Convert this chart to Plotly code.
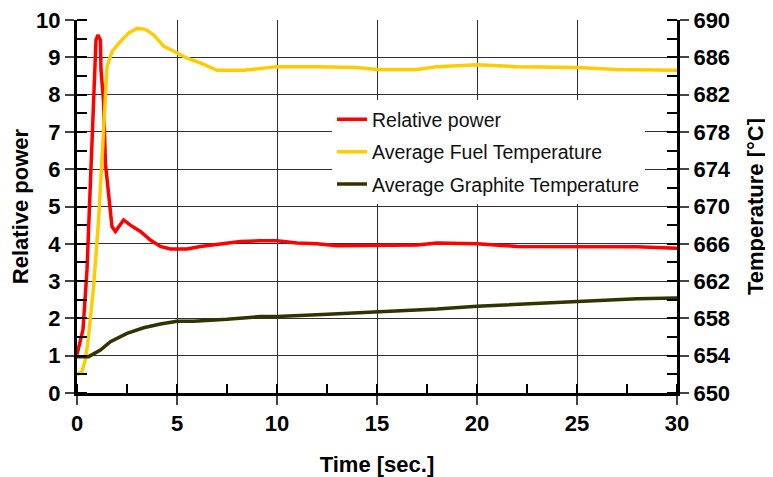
import plotly.graph_objects as go

# Relative power (left axis)
power_t = [0, 0.3, 0.5, 0.67, 0.83, 0.95, 1.05, 1.17, 1.2, 1.33, 1.42, 1.58, 1.67, 1.75, 1.92, 2.08,
           2.33, 2.67, 3.17, 3.67, 4.17, 4.67, 5.5, 6.17, 7.17, 8.17, 9.17, 10, 11, 12, 13, 15, 17,
           18, 20, 22, 25, 28, 30]
power_v = [1.03, 1.7, 3.3, 5.5, 7.5, 9.46, 9.6, 9.46, 8.66, 7.8, 6.16, 5.27, 4.9, 4.46, 4.33, 4.46,
           4.64, 4.5, 4.33, 4.1, 3.93, 3.86, 3.86, 3.93, 4.0, 4.06, 4.08, 4.08, 4.02, 4.0, 3.95, 3.95, 3.97,
           4.02, 4.0, 3.93, 3.92, 3.92, 3.88]

# Average fuel temperature (right axis, °C)
fuel_t = [0, 0.25, 0.42, 0.58, 0.83, 1.08, 1.25, 1.42, 1.5, 1.75, 2.17, 2.58, 3.0, 3.42, 3.83, 4.33,
          4.83, 5.5, 6.17, 7.0, 8.33, 9.17, 10, 12, 14, 15, 17, 18, 20, 22, 25, 27, 30]
fuel_T = [651.96, 652.3, 653.6, 656.1, 661.4, 668.6, 675.0, 681.1, 685.0, 686.6, 687.7, 688.6, 689.1,
          689.0, 688.4, 687.2, 686.6, 685.9, 685.4, 684.6, 684.6, 684.8, 685.0, 685.0, 684.9, 684.7,
          684.7, 685.0, 685.2, 685.0, 684.9, 684.7, 684.6]

# Average graphite temperature (right axis, °C)
graph_t = [0, 0.58, 1.17, 1.67, 2.5, 3.33, 4.17, 5, 5.83, 6.67, 7.5, 9.17, 10, 12, 15, 18, 20, 25, 28, 30]
graph_T = [653.9, 653.9, 654.6, 655.5, 656.4, 657.0, 657.4, 657.7, 657.7, 657.8, 657.9, 658.2, 658.2,
           658.4, 658.7, 659.0, 659.3, 659.8, 660.1, 660.2]

x_ticks = [0, 5, 10, 15, 20, 25, 30]
left_ticks = list(range(0, 11))
right_ticks = list(range(650, 691, 4))

FONT = "Liberation Sans, Arial, sans-serif"

fig = go.Figure()
fig.add_trace(go.Scatter(x=power_t, y=power_v, mode="lines", name="Relative power",
                         line=dict(color="#FF0000", width=3.5), yaxis="y", legendgroup="a"))
fig.add_trace(go.Scatter(x=fuel_t, y=fuel_T, mode="lines", name="Average Fuel Temperature",
                         line=dict(color="#FFCC00", width=3.5), yaxis="y2", legendgroup="b"))
fig.add_trace(go.Scatter(x=graph_t, y=graph_T, mode="lines", name="Average Graphite Temperature",
                         line=dict(color="#333300", width=3.5), yaxis="y2", legendgroup="c"))

tickfont = dict(family=FONT, size=22, color="black", weight="bold")
titlefont = dict(family=FONT, size=22, color="black", weight="bold")

fig.update_layout(
    width=765, height=469,
    margin=dict(l=69, r=96, t=12, b=84, autoexpand=False),
    plot_bgcolor="white", paper_bgcolor="white",
    font=dict(family=FONT, color="black"),
    xaxis=dict(range=[0, 30], tickvals=x_ticks, ticks="outside", ticklen=9, tickwidth=2,
               showgrid=True, gridcolor="#303030", gridwidth=1, zeroline=False, automargin=False,
               showline=True, linecolor="black", linewidth=3, ticklabeloverflow="allow",
               minor=dict(ticks="inside", dtick=2.5, tick0=0, ticklen=9, tickwidth=2, tickcolor="black", showgrid=False),
               tickfont=tickfont, title=dict(text="Time [sec.]", font=titlefont, standoff=23)),
    yaxis=dict(range=[0, 10], tickvals=left_ticks, ticks="outside", ticklen=9, tickwidth=2,
               showgrid=True, gridcolor="#303030", gridwidth=1, zeroline=False, automargin=False,
               showline=True, linecolor="black", linewidth=3, ticklabeloverflow="allow",
               minor=dict(ticks="inside", dtick=0.5, tick0=0, ticklen=10, tickwidth=2, tickcolor="black", showgrid=False),
               tickfont=tickfont, title=dict(text="Relative power", font=titlefont, standoff=4)),
    yaxis2=dict(range=[650, 690], tickvals=right_ticks, overlaying="y", side="right",
                ticks="outside", ticklen=9, tickwidth=2, showgrid=False, zeroline=False, automargin=False,
                showline=True, linecolor="black", linewidth=3, ticklabeloverflow="allow",
                minor=dict(ticks="inside", dtick=2, tick0=650, ticklen=10, tickwidth=2, tickcolor="black", showgrid=False),
                tickfont=tickfont, title=dict(text="Temperature [°C]", font=titlefont, standoff=18)),
    # overlay axes giving inside halves of the crossing major ticks
    xaxis2=dict(range=[0, 30], tickvals=x_ticks, overlaying="x", anchor="y", side="bottom",
                ticks="inside", ticklen=9, tickwidth=2, showticklabels=False, showgrid=False,
                zeroline=False, showline=False, automargin=False),
    # thin top border (the 10 gridline at the top edge)
    xaxis3=dict(range=[0, 30], overlaying="x", anchor="y", side="top", showticklabels=False,
                ticks="", showgrid=False, zeroline=False, showline=True, linecolor="#303030",
                linewidth=1, automargin=False),
    yaxis3=dict(range=[0, 10], tickvals=left_ticks, overlaying="y", side="left", anchor="x",
                ticks="inside", ticklen=10, tickwidth=2, showticklabels=False, showgrid=False,
                zeroline=False, showline=False, automargin=False),
    yaxis4=dict(range=[650, 690], tickvals=right_ticks, overlaying="y", side="right", anchor="x",
                ticks="inside", ticklen=10, tickwidth=2, showticklabels=False, showgrid=False,
                zeroline=False, showline=False, automargin=False),
    legend=dict(x=0.425, y=0.785, xanchor="left", yanchor="top", bgcolor="white",
                borderwidth=0, font=dict(family=FONT, size=19.5, color="#111111"),
                traceorder="grouped", tracegroupgap=4, itemwidth=30),
    showlegend=True,
)

fig.write_html("out.html")
